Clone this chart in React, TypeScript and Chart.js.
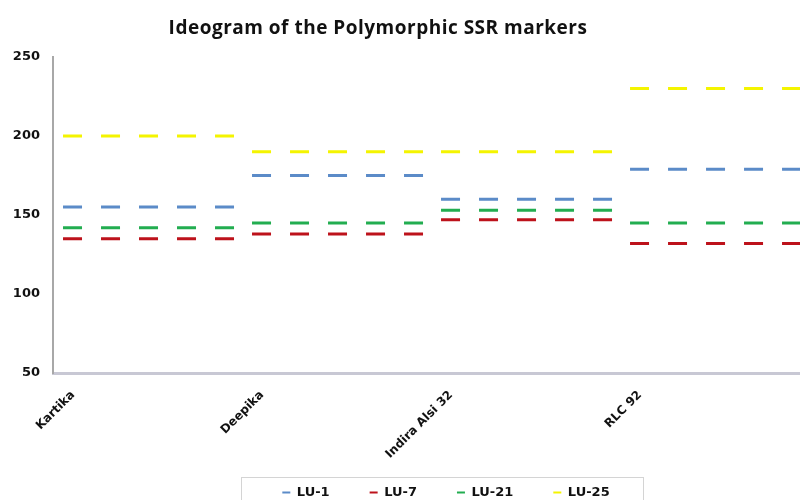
import React, { useEffect, useRef } from 'react';
import { Chart, registerables } from 'chart.js';

Chart.register(...registerables);

const TITLE = 'Ideogram of the Polymorphic SSR markers';
const CATEGORIES = ['Kartika', 'Deepika', 'Indira Alsi 32', 'RLC 92'];
const SERIES_NAMES = ['LU-1', 'LU-7', 'LU-21', 'LU-25'];
const LU1 = [155, 175, 160, 179];
const LU7 = [135, 138, 147, 132];
const LU21 = [142, 145, 153, 145];
const LU25 = [200, 190, 190, 230];
const SERIES_VALUES = [LU1, LU7, LU21, LU25];
const Y_MIN = 50;
const Y_MAX = 250;
const Y_STEP = 50;
const COLORS = ['#5b8bc8', '#bd121b', '#22ad50', '#f4f400'];

// each category value holds from its own category to the next one
function stepPoints(values: number[]) {
  const pts: { x: number; y: number | null }[] = [];
  values.forEach((v, i) => {
    pts.push({ x: i, y: v });
    pts.push({ x: i + 1, y: v });
    pts.push({ x: i + 1, y: null });
  });
  return pts;
}

const titlePlugin = {
  id: 'customTitle',
  afterDraw(chart: any) {
    const ctx = chart.ctx;
    ctx.save();
    ctx.font = 'bold 19px "Open Sans"';
    try {
      (ctx as any).letterSpacing = '0.5px';
    } catch (e) {}
    ctx.fillStyle = '#111';
    ctx.textAlign = 'center';
    ctx.textBaseline = 'middle';
    ctx.fillText(TITLE, 378, 29);
    ctx.restore();
  },
};

const legendBoxPlugin = {
  id: 'legendBox',
  afterDraw(chart: any) {
    const lg = chart.legend;
    if (!lg || !lg.legendHitBoxes || !lg.legendHitBoxes.length) return;
    const hb = lg.legendHitBoxes[0];
    const cx = (lg.left + lg.right) / 2;
    const ctx = chart.ctx;
    ctx.save();
    ctx.strokeStyle = '#d4d4d4';
    ctx.lineWidth = 1;
    ctx.strokeRect(Math.round(cx - 205) + 0.5, Math.round(hb.top - 9) + 0.5, 402, 40);
    ctx.restore();
  },
};

export default function App() {
  const ref = useRef<HTMLCanvasElement | null>(null);

  useEffect(() => {
    if (!ref.current) return;
    const datasets = SERIES_NAMES.map((name, i) => ({
      label: name,
      data: stepPoints(SERIES_VALUES[i]),
      borderColor: COLORS[i],
      backgroundColor: COLORS[i],
      borderWidth: 3,
      borderDash: [19, 19],
      borderCapStyle: 'butt' as const,
      pointRadius: 0,
      pointHoverRadius: 0,
      spanGaps: false,
      tension: 0,
    }));

    const chart = new Chart(ref.current, {
      type: 'line',
      data: { datasets },
      plugins: [titlePlugin, legendBoxPlugin],
      options: {
        animation: false,
        responsive: false,
        parsing: false as any,
        layout: { padding: { top: 57, left: 0, right: 0, bottom: 0 } },
        plugins: {
          title: { display: false },
          tooltip: { enabled: false },
          legend: {
            display: true,
            position: 'bottom',
            labels: {
              boxWidth: 8,
              boxHeight: 2,
              padding: 40,
              color: '#111',
              font: { family: '"DejaVu Sans"', size: 13, weight: 'bold' },
              generateLabels: (c: any) =>
                (Chart.defaults.plugins.legend.labels.generateLabels as any)(c).map((l: any) => ({
                  ...l,
                  lineWidth: 0,
                  lineDash: [],
                })),
            },
          },
        },
        scales: {
          x: {
            type: 'linear',
            min: -0.053,
            max: 4.386,
            grid: { display: false, drawTicks: false },
            border: { display: true, color: '#c8c8d4', width: 3 },
            ticks: {
              stepSize: 1,
              includeBounds: false,
              autoSkip: false,
              minRotation: 45,
              maxRotation: 45,
              padding: 15,
              labelOffset: 10,
              color: '#111',
              font: { family: '"DejaVu Sans"', size: 12, weight: 'bold' },
              callback: (v: any) => (Number.isInteger(v) && CATEGORIES[v] ? CATEGORIES[v] : ''),
            },
            afterFit: (s: any) => {
              s.height = 73;
              s.paddingLeft = 0;
              s.paddingRight = 0;
            },
            afterUpdate: (s: any) => {
              // let rotated labels run below the axis box (no clipping)
              s._computeLabelArea = () => undefined;
            },
          },
          y: {
            type: 'linear',
            min: Y_MIN,
            max: Y_MAX,
            grid: { display: false, drawTicks: false },
            border: { display: true, color: '#a8a8a8', width: 2 },
            ticks: {
              stepSize: Y_STEP,
              padding: 13,
              color: '#111',
              font: { family: '"DejaVu Sans"', size: 13, weight: 'bold' },
            },
            afterFit: (s: any) => {
              s.width = 53;
            },
          },
        },
      },
    });
    return () => chart.destroy();
  }, []);

  return (
    <div
      style={{
        position: 'fixed',
        left: 0,
        top: 0,
        width: 800,
        height: 500,
        overflow: 'hidden',
        background: '#fff',
      }}
    >
      <canvas ref={ref} width={892} height={509} style={{ display: 'block' }} />
    </div>
  );
}
